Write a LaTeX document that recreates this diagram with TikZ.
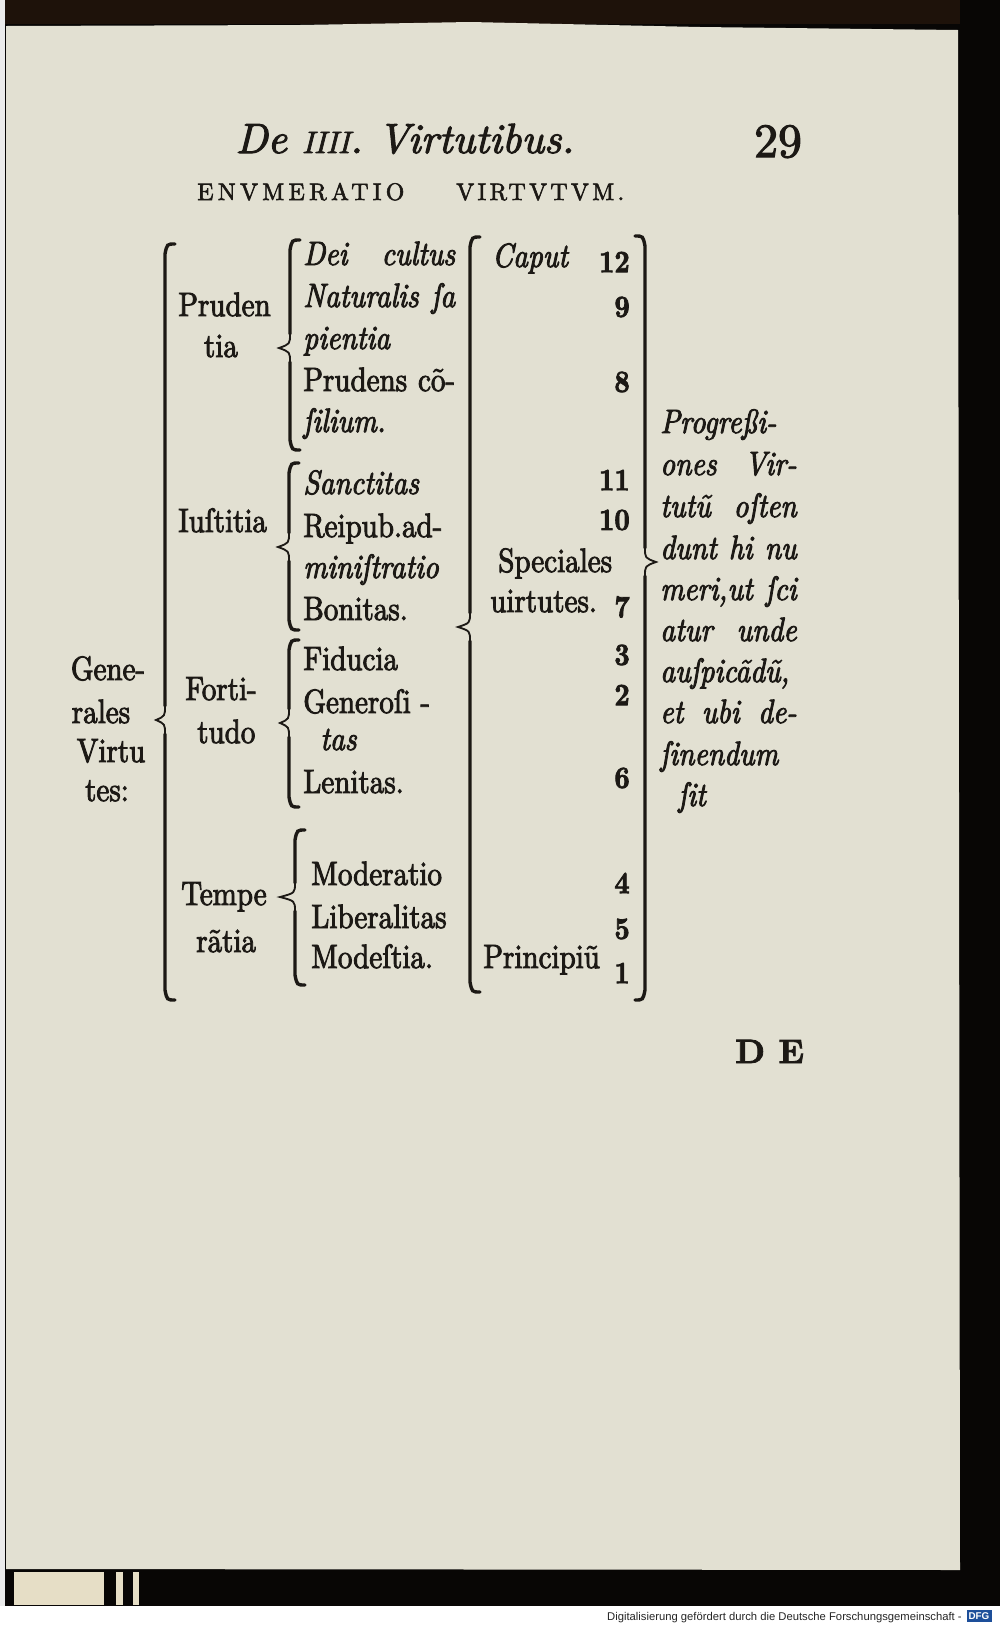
\documentclass[tikz,border=0pt]{standalone}
\usepackage{fontspec}
\newfontfamily\oldtype{lmroman10}[Extension=.otf,UprightFont=*-regular,
  ItalicFont=*-italic,BoldFont=*-bold,BoldItalicFont=*-bolditalic,
  FakeStretch=0.86,FakeBold=2.6]
\newfontfamily\headtype{lmroman10}[Extension=.otf,UprightFont=*-regular,
  ItalicFont=*-italic,BoldFont=*-bold,BoldItalicFont=*-bolditalic,FakeBold=2.4]
\newfontfamily\dfgfont{Liberation Sans}
\usepackage{xcolor}
\definecolor{ink}{HTML}{1C1915}
\definecolor{paper}{HTML}{E2E0D2}
\definecolor{scanblack}{HTML}{080605}
\definecolor{edgebrown}{HTML}{1E120A}
\definecolor{spine}{HTML}{E6DEC6}
\definecolor{dfgblue}{HTML}{1D4F9A}
\usepackage{tikz}
\tikzset{
  brace/.style  ={draw=ink,line width=2.4pt,line cap=round},
  tipline/.style={draw=ink,line width=1.3pt,line cap=round},
  lbl/.style    ={font=\oldtype\fontsize{24}{29}\selectfont,text=ink,
                  inner sep=0pt,anchor=base west},
  itl/.style    ={lbl,font=\oldtype\itshape\fontsize{24}{29}\selectfont},
  num/.style    ={font=\oldtype\bfseries\fontsize{22}{22}\selectfont,text=ink,
                  inner sep=0pt,anchor=east},
}
% left brace: x, top, tip x, tip y, bottom
\newcommand{\bracel}[5]{%
  \draw[brace] ({#1+10},#2) .. controls ({#1+2},#2) .. ({#1},{#2+10}) -- ({#1},{#4-14});
  \draw[brace] ({#1},{#4+14}) -- ({#1},{#5-10}) .. controls ({#1+2},#5) .. ({#1+10},#5);
  \draw[tipline] ({#1},{#4-14}) .. controls ({#1},{#4-4}) .. (#3,#4)
    .. controls ({#1},{#4+4}) .. ({#1},{#4+14});}
% right brace: x, top, tip x, tip y, bottom
\newcommand{\bracer}[5]{%
  \draw[brace] ({#1-10},#2) .. controls ({#1-2},#2) .. ({#1},{#2+10}) -- ({#1},{#4-14});
  \draw[brace] ({#1},{#4+14}) -- ({#1},{#5-10}) .. controls ({#1-2},#5) .. ({#1-10},#5);
  \draw[tipline] ({#1},{#4-14}) .. controls ({#1},{#4-4}) .. (#3,#4)
    .. controls ({#1},{#4+4}) .. ({#1},{#4+14});}
\newcommand{\jline}[1]{\makebox[97pt][s]{#1}}
\newcommand{\iline}[1]{\makebox[108pt][s]{#1}}

\begin{document}
\begin{tikzpicture}[x=0.025cm,y=-0.025cm]
\useasboundingbox (0,0) rectangle (1000,1626);
%======================= SCAN: page and edges ===================
\fill[white] (0,0) rectangle (1000,1626);
\fill[scanblack] (5,0) rectangle (1000,1606);
\fill[edgebrown] (5,0) rectangle (960,24);
\fill[paper] (6,26) -- (300,25) -- (470,22) -- (700,27) -- (958,30)
  -- (960,1570) -- (6,1569) -- cycle;
\fill[black!8] (0,0) rectangle (5,1606);
\fill[spine] (14,1572) rectangle (104,1605);
\fill[spine] (116,1572) rectangle (123,1605);
\fill[spine] (133,1572) rectangle (139,1605);
%======================= HEADER =================================
\node[font=\headtype\itshape\fontsize{30}{30}\selectfont,text=ink,inner sep=0pt,anchor=base]
  (title) at (405,153) {De {\fontsize{22}{22}\selectfont IIII}. Virtutibus.};
\node[font=\headtype\fontsize{34}{34}\selectfont,text=ink,inner sep=0pt,anchor=base]
  (folio) at (778,157) {29};
\node[font=\headtype\fontsize{17}{17}\selectfont\addfontfeature{LetterSpace=18},text=ink,
  inner sep=0pt,anchor=base west] (enum) at (197,200) {ENVMERATIO};
\node[font=\headtype\fontsize{17}{17}\selectfont\addfontfeature{LetterSpace=14},text=ink,
  inner sep=0pt,anchor=base west] (virt) at (456,200) {VIRTVTVM.};
%======================= COLUMN 1: Generales ====================
\foreach \t/\x/\y [count=\i] in {Gene-/108/680,rales/101/723,Virtu/111/762,tes:/107/801}
  \node[lbl,anchor=base] (gen\i) at (\x,\y) {\t};
\bracel{165}{244}{156}{720}{1000}
%======================= COLUMN 2: the four virtues =============
\node[lbl] (prud1) at (178,316) {Pruden};
\node[lbl,anchor=base] (prud2) at (221,357) {tia};
\node[lbl] (iust) at (178,532) {Iuſtitia};
\node[lbl] (fort1) at (185,700) {Forti-};
\node[lbl] (fort2) at (197,743) {tudo};
\node[lbl] (temp1) at (181,905) {Tempe};
\node[lbl] (temp2) at (196,952) {rãtia};
\bracel{290}{240}{279}{348}{450}
\bracel{289}{463}{278}{547}{630}
\bracel{289}{640}{280}{723}{807}
\bracel{295}{830}{280}{897}{985}
%======================= COLUMN 3: their parts ==================
\node[itl] (p1) at (303,265) {\iline{Dei cultus}};
\node[itl] (p2) at (303,307) {\iline{Naturalis ſa}};
\node[itl] (p3) at (303,349) {pientia};
\node[lbl] (p4) at (303,391) {\iline{Prudens cõ-}};
\node[itl] (p5) at (303,432) {ſilium.};
\node[itl] (i1) at (303,494) {Sanctitas};
\node[lbl] (i2) at (303,537) {Reipub.ad-};
\node[itl] (i3) at (303,578) {miniſtratio};
\node[lbl] (i4) at (303,620) {Bonitas.};
\node[lbl] (f1) at (303,670) {Fiducia};
\node[lbl] (f2) at (303,713) {Generoſi -};
\node[itl] (f3) at (320,750) {tas};
\node[lbl] (f4) at (303,793) {Lenitas.};
\node[lbl] (t1) at (311,885) {Moderatio};
\node[lbl] (t2) at (311,928) {Liberalitas};
\node[lbl] (t3) at (311,968) {Modeſtia.};
%======================= COLUMN 4: special virtues ==============
\bracel{470}{237}{458}{627}{992}
\node[itl] (caput) at (492,267) {Caput};
\node[lbl] (spec1) at (498,572) {Speciales};
\node[lbl] (spec2) at (490,612) {uirtutes.};
\node[lbl] (princ) at (483,968) {Principiũ};
\foreach \n/\y [count=\i] in {12/262,9/307,8/382,11/480,10/520,7/607,
                              3/655,2/695,6/778,4/883,5/929,1/973}
  \node[num] (n\i) at (630,\y) {\n};
%======================= COLUMN 5: Progressiones ================
\bracer{645}{236}{656}{562}{1000}
\foreach \t/\y [count=\i] in {Progreßi-/433,\jline{ones Vir-}/475,\jline{tutũ oſten}/517,
    \jline{dunt hi nu}/559,{\jline{meri,ut ſci}}/600,\jline{atur unde}/641,
    {auſpicãdũ,}/682,\jline{et ubi de-}/723,ſinendum/765}
  \node[itl] (prog\i) at (660,\y) {\t};
\node[itl] (prog10) at (678,806) {ſit};
%======================= CATCHWORD and footer ===================
\node[font=\headtype\bfseries\fontsize{24}{24}\selectfont\addfontfeature{LetterSpace=40},
  text=ink,inner sep=0pt,anchor=base west] (catch) at (735,1063) {DE};
\node[font=\dfgfont\fontsize{8}{8}\selectfont,text=black!85,inner sep=0pt,anchor=base east]
  (dfgtext) at (962,1620) {Digitalisierung gefördert durch die Deutsche Forschungsgemeinschaft -};
\node[fill=dfgblue,text=white,font=\dfgfont\bfseries\fontsize{7}{7}\selectfont,
  inner sep=1.5pt] (dfglogo) at (979,1616) {DFG};
\end{tikzpicture}
\end{document}
